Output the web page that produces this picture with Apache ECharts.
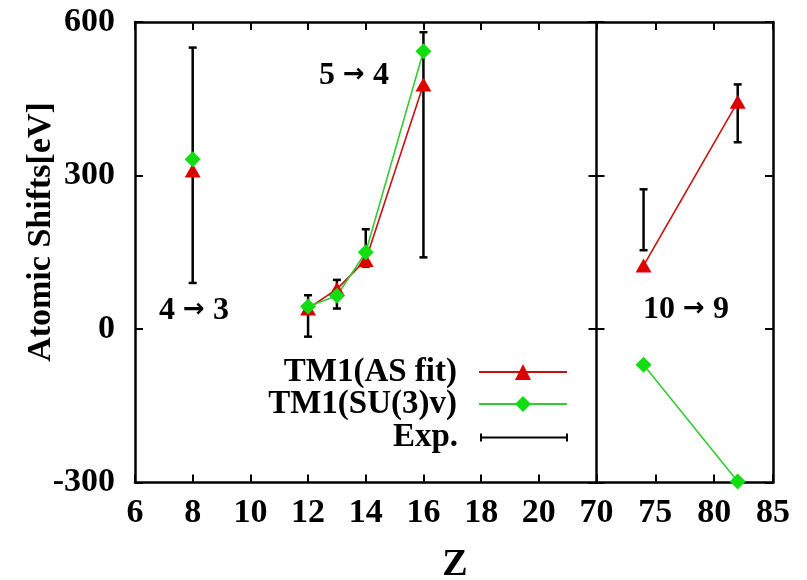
<!DOCTYPE html>
<html>
<head>
<meta charset="utf-8">
<style>html,body{margin:0;padding:0;background:#fff}#chart{width:807px;height:580px}</style>
<script src="https://cdn.jsdelivr.net/npm/echarts@6/dist/echarts.min.js"></script>
</head>
<body>
<div id="chart"></div>
<script>
// Atomic shifts of the transitions 4→3, 5→4 and 10→9 versus nuclear charge Z.
var z43 = [8];
var z54 = [12, 13, 14, 16];
var z109 = [74, 82];

var asFit43 = [310];
var asFit54 = [40, 78, 135, 478];
var asFit109 = [124, 444];

var su3v43 = [332];
var su3v54 = [44, 65, 150, 543];
var su3v109 = [-70, -298];

var expLow43 = [90];
var expHigh43 = [550];
var expLow54 = [-15, 40, 122, 140];
var expHigh54 = [66, 96, 195, 580];
var expLow109 = [154, 365];
var expHigh109 = [273, 478];

var yTicks = { min: -300, max: 600, step: 300 };
var xLeftTicks = { min: 6, max: 22, step: 2 };
var xRightTicks = { min: 70, max: 85, step: 5 };

var FONT = 'Liberation Serif';
var RED = '#dd0000', RED_LINE = '#c81010';
var GREEN = '#11dd11', GREEN_LINE = '#33cc33';

function pairs(xs, ys) { return xs.map(function (x, i) { return [x, ys[i]]; }); }
function bars(xs, lo, hi) { return xs.map(function (x, i) { return [x, lo[i], hi[i]]; }); }

function errorBar(params, api) {
  var x = api.value(0);
  var p1 = api.coord([x, api.value(1)]);
  var p2 = api.coord([x, api.value(2)]);
  var cap = 4;
  var st = { stroke: '#000', lineWidth: 2.5 };
  return {
    type: 'group',
    children: [
      { type: 'line', shape: { x1: p1[0], y1: p1[1], x2: p2[0], y2: p2[1] }, style: st },
      { type: 'line', shape: { x1: p1[0] - cap, y1: p1[1], x2: p1[0] + cap, y2: p1[1] }, style: st },
      { type: 'line', shape: { x1: p2[0] - cap, y1: p2[1], x2: p2[0] + cap, y2: p2[1] }, style: st }
    ]
  };
}

var tickLabel = { fontFamily: FONT, fontWeight: 'bold', fontSize: 34, color: '#000' };
var tick = { show: true, inside: true, length: 8, lineStyle: { color: '#000', width: 2 } };
function frame(show) { return { show: show, onZero: false, lineStyle: { color: '#000', width: 2.5 } }; }

function xAxis(grid, pos, t, labels) {
  return {
    type: 'value', gridIndex: grid, position: pos, min: t.min, max: t.max, interval: t.step,
    axisLine: frame(true), axisTick: tick, splitLine: { show: false },
    axisLabel: labels ? Object.assign({ margin: 14, showMaxLabel: t !== xLeftTicks }, tickLabel) : { show: false }
  };
}
function yAxis(grid, pos, labels, lineShown) {
  return {
    type: 'value', gridIndex: grid, position: pos, min: yTicks.min, max: yTicks.max, interval: yTicks.step,
    axisLine: frame(lineShown), axisTick: tick, splitLine: { show: false },
    axisLabel: labels ? Object.assign({ margin: 20 }, tickLabel) : { show: false }
  };
}

function lineSeries(name, data, xi, yi, color, lineColor, symbol, size) {
  return {
    name: name, type: 'line', xAxisIndex: xi, yAxisIndex: yi, data: data,
    symbol: symbol, symbolSize: size, clip: false, z: 3,
    itemStyle: { color: color }, lineStyle: { color: lineColor, width: 1.6 },
    emphasis: { disabled: true }, animation: false
  };
}
function expSeries(data, xi, yi) {
  return {
    name: 'Exp.', type: 'custom', xAxisIndex: xi, yAxisIndex: yi, data: data,
    renderItem: errorBar, itemStyle: { color: '#000' }, z: 2, animation: false,
    encode: { x: 0, y: [1, 2] }
  };
}

var legendText = { fontFamily: FONT, fontWeight: 'bold', fontSize: 33, color: '#000', lineHeight: 34, padding: [0, 17, 0, 0] };
function legend(name, top, h, icon) {
  var item = { name: name };
  if (icon) item.icon = icon;
  return {
    data: [item], orient: 'vertical', align: 'right', right: 239, top: top, padding: 0,
    itemWidth: 88, itemHeight: h, selectedMode: false, textStyle: legendText
  };
}

// transition label: serif digits with a heavier sans arrow
function transition(text, x, y) {
  return {
    type: 'text', x: x, y: y,
    style: {
      text: text.replace('→', '{a|→}'),
      font: 'bold 32px "Liberation Serif"', fill: '#000', align: 'center', verticalAlign: 'middle',
      rich: { a: { fontFamily: 'DejaVu Sans', fontWeight: 'bold', fontSize: 26, fill: '#000', padding: [0, 0, 2, 0] } }
    }
  };
}

var chart = echarts.init(document.getElementById('chart'), null, { renderer: 'canvas' });
chart.setOption({
  backgroundColor: '#fff',
  animation: false,
  grid: [
    { left: 135, top: 22, width: 461.5, height: 460.5 },
    { left: 596.5, top: 22, width: 176.5, height: 460.5 }
  ],
  xAxis: [
    xAxis(0, 'bottom', xLeftTicks, true),
    xAxis(0, 'top', xLeftTicks, false),
    xAxis(1, 'bottom', xRightTicks, true),
    xAxis(1, 'top', xRightTicks, false)
  ],
  yAxis: [
    yAxis(0, 'left', true, true),
    yAxis(0, 'right', false, true),
    yAxis(1, 'left', false, false),
    yAxis(1, 'right', false, true)
  ],
  legend: [
    legend('TM1(AS fit)', 355, 20),
    legend('TM1(SU(3)v)', 387, 20),
    legend('Exp.', 420.5, 8, 'path://M0,0H2V3H86V0H88V8H86V5H2V8H0Z')
  ],
  series: [
    expSeries(bars(z43, expLow43, expHigh43), 0, 0),
    expSeries(bars(z54, expLow54, expHigh54), 0, 0),
    expSeries(bars(z109, expLow109, expHigh109), 2, 2),
    lineSeries('TM1(AS fit)', pairs(z43, asFit43), 0, 0, RED, RED_LINE, 'triangle', [16, 14]),
    lineSeries('TM1(AS fit)', pairs(z54, asFit54), 0, 0, RED, RED_LINE, 'triangle', [16, 14]),
    lineSeries('TM1(AS fit)', pairs(z109, asFit109), 2, 2, RED, RED_LINE, 'triangle', [16, 14]),
    lineSeries('TM1(SU(3)v)', pairs(z43, su3v43), 0, 0, GREEN, GREEN_LINE, 'diamond', [16, 16]),
    lineSeries('TM1(SU(3)v)', pairs(z54, su3v54), 0, 0, GREEN, GREEN_LINE, 'diamond', [16, 16]),
    lineSeries('TM1(SU(3)v)', pairs(z109, su3v109), 2, 2, GREEN, GREEN_LINE, 'diamond', [16, 16])
  ],
  graphic: [
    { type: 'text', x: 41, y: 232, rotation: Math.PI / 2,
      style: { text: 'Atomic Shifts[eV]', font: 'bold 34px "Liberation Serif"', fill: '#000', align: 'center', verticalAlign: 'middle' } },
    { type: 'text', x: 455, y: 565,
      style: { text: 'Z', font: 'bold 38px "Liberation Serif"', fill: '#000', align: 'center', verticalAlign: 'middle' } },
    transition('4 → 3', 194, 311),
    transition('5 → 4', 354, 76),
    transition('10 → 9', 686, 310)
  ]
});
</script>
</body>
</html>
